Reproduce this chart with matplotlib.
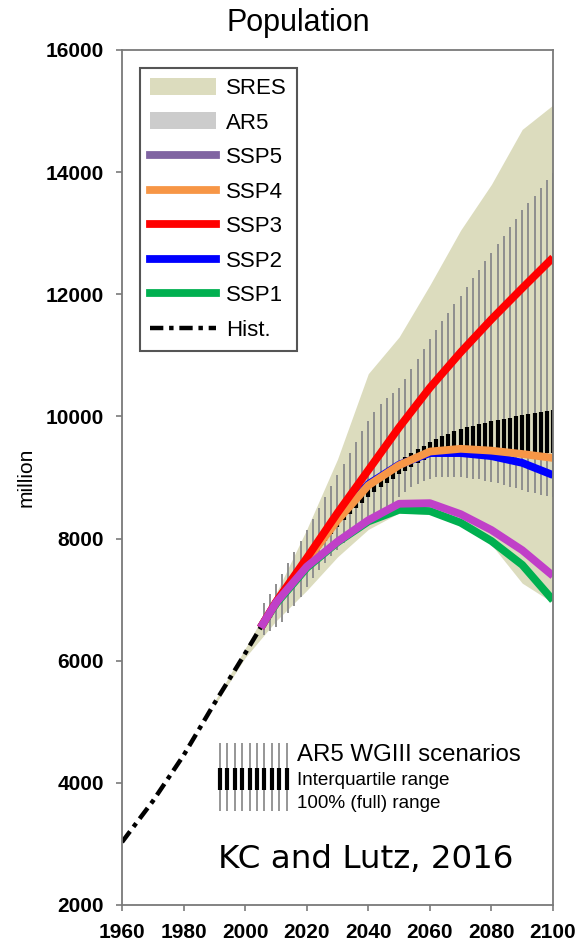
import matplotlib
matplotlib.use("Agg")
import matplotlib.pyplot as plt
from matplotlib.lines import Line2D
from matplotlib.patches import Patch

# ---------------- data (million people) ----------------
hist_years = [1960, 1970, 1980, 1990, 2000, 2005]
hist_pop = [3030, 3700, 4450, 5300, 6120, 6540]

ssp_years = [2005, 2010, 2020, 2030, 2040, 2050, 2060, 2070, 2080, 2090, 2100]
ssp1 = [6540, 6930, 7520, 7940, 8280, 8470, 8450, 8260, 7960, 7570, 6990]
ssp2 = [6540, 6950, 7650, 8320, 8890, 9210, 9400, 9400, 9350, 9240, 9040]
ssp3 = [6540, 6960, 7680, 8420, 9120, 9820, 10470, 11050, 11590, 12100, 12600]
ssp4 = [6540, 6950, 7640, 8300, 8870, 9200, 9425, 9470, 9440, 9385, 9320]
ssp5 = [6540, 6950, 7540, 7950, 8300, 8570, 8580, 8400, 8140, 7810, 7390]

sres_years = [1990, 2000, 2010, 2020, 2030, 2040, 2050, 2060, 2070, 2080, 2090, 2100]
sres_low = [5260, 6050, 6650, 7150, 7700, 8150, 8420, 8400, 8210, 7900, 7270, 6950]
sres_high = [5330, 6200, 7100, 8150, 9300, 10700, 11300, 12150, 13050, 13800, 14700, 15100]

ar5_years = list(range(2006, 2101, 2))
ar5_min = [6420, 6480, 6560, 6640, 6780, 6900, 7050, 7200, 7350, 7480,
           7600, 7720, 7820, 7920, 8010, 8100, 8180, 8260, 8340, 8420,
           8500, 8580, 8680, 8760, 8840, 8900, 8950, 8980, 9000, 9010,
           9010, 9000, 9000, 8990, 8980, 8970, 8950, 8930, 8910, 8880,
           8850, 8820, 8790, 8760, 8740, 8720, 8700, 8680]
ar5_max = [6950, 7100, 7250, 7420, 7600, 7780, 7960, 8140, 8320, 8500,
           8680, 8860, 9040, 9220, 9400, 9580, 9760, 9930, 10080, 10200,
           10300, 10380, 10470, 10620, 10780, 10940, 11100, 11260, 11420, 11560,
           11700, 11840, 11980, 12120, 12260, 12400, 12540, 12680, 12820, 12960,
           13100, 13240, 13380, 13500, 13610, 13740, 13870, 13990]
ar5_q1 = [6550, 6700, 6860, 7010, 7160, 7300, 7440, 7580, 7710, 7840,
          7960, 8080, 8190, 8300, 8400, 8500, 8590, 8680, 8760, 8840,
          8910, 8980, 9050, 9110, 9170, 9230, 9290, 9360, 9390, 9410,
          9420, 9420, 9430, 9430, 9430, 9430, 9420, 9420, 9410, 9410,
          9400, 9400, 9400, 9400, 9400, 9400, 9400, 9400]
ar5_q3 = [6600, 6760, 6920, 7080, 7230, 7380, 7520, 7660, 7800, 7930,
          8060, 8180, 8300, 8410, 8520, 8630, 8730, 8830, 8920, 9010,
          9100, 9180, 9260, 9330, 9400, 9460, 9520, 9580, 9630, 9680,
          9720, 9760, 9790, 9820, 9850, 9880, 9900, 9920, 9940, 9960,
          9980, 10000, 10020, 10040, 10060, 10080, 10090, 10100]

x_ticks = [1960, 1980, 2000, 2020, 2040, 2060, 2080, 2100]
y_ticks = [2000, 4000, 6000, 8000, 10000, 12000, 14000, 16000]

# ---------------- styling ----------------
W, H = 578, 944
SRES_C = "#dcdcbe"
AR5_C = "#cccccc"
GREY_LINE = "#8e8e8e"
C_SSP5_KEY = "#8064a2"
C_SSP5 = "#c040c8"
C_SSP4 = "#f79646"
C_SSP3 = "#ff0000"
C_SSP2 = "#0000ff"
C_SSP1 = "#00b050"
SPINE = "#7a7a7a"
LW = 5.6
HIST_LS = (0, (3, 1.3, 1, 1.3))

plt.rcParams["font.family"] = ["Liberation Sans", "DejaVu Sans"]

fig = plt.figure(figsize=(W / 100, H / 100), dpi=100)
ax = fig.add_axes([122 / W, 39 / H, 431 / W, 855 / H])

ax.fill_between(sres_years, sres_low, sres_high, color=SRES_C, lw=0, zorder=1)
ax.vlines(ar5_years, ar5_min, ar5_max, color=GREY_LINE, lw=1.4, zorder=2)
ax.vlines(ar5_years, ar5_q1, ar5_q3, color="black", lw=3.0, zorder=3)

ax.plot(ssp_years, ssp1, color=C_SSP1, lw=LW, zorder=4, solid_capstyle="butt")
ax.plot(ssp_years, ssp2, color=C_SSP2, lw=LW, zorder=5, solid_capstyle="butt")
ax.plot(ssp_years, ssp4, color=C_SSP4, lw=LW, zorder=6, solid_capstyle="butt")
ax.plot(ssp_years, ssp3, color=C_SSP3, lw=LW, zorder=7, solid_capstyle="butt")
ax.plot(ssp_years, ssp5, color=C_SSP5, lw=LW, zorder=8, solid_capstyle="butt")
ax.plot(hist_years, hist_pop, color="black", lw=3.2, ls=HIST_LS, zorder=9)

ax.set_xlim(1960, 2100)
ax.set_ylim(2000, 16000)
ax.set_xticks(x_ticks)
ax.set_yticks(y_ticks)
ax.tick_params(direction="out", length=4, width=1.2, color=SPINE,
               labelsize=15, pad=9)
for lab in ax.get_xticklabels() + ax.get_yticklabels():
    lab.set_fontweight("bold")
for sp in ax.spines.values():
    sp.set_color(SPINE)
    sp.set_linewidth(1.3)
    sp.set_zorder(10)

ax.set_ylabel("million", fontsize=15, labelpad=7)
fig.text(298 / W, 1 - 31 / H, "Population", fontsize=22,
         ha="center", va="baseline")

handles = [
    Patch(facecolor=SRES_C, edgecolor="none"),
    Patch(facecolor=AR5_C, edgecolor="none"),
    Line2D([], [], color=C_SSP5_KEY, lw=LW),
    Line2D([], [], color=C_SSP4, lw=LW),
    Line2D([], [], color=C_SSP3, lw=LW),
    Line2D([], [], color=C_SSP2, lw=LW),
    Line2D([], [], color=C_SSP1, lw=LW),
    Line2D([], [], color="black", lw=3.2, ls=HIST_LS),
]
labels = ["SRES", "AR5", "SSP5", "SSP4", "SSP3", "SSP2", "SSP1", "Hist."]
leg = ax.legend(handles, labels, loc="upper left", fontsize=16,
                frameon=True, fancybox=False, framealpha=1,
                edgecolor="#555555", handlelength=3.0, handleheight=0.8,
                handletextpad=0.45, labelspacing=0.6, borderpad=0.45,
                borderaxespad=0.8)
leg.get_frame().set_linewidth(1.5)
leg.set_zorder(12)

# key for the AR5 bars
key_x = [0.2273 + 0.0172 * i for i in range(10)]
ax.vlines(key_x, 0.110, 0.190, transform=ax.transAxes, color=GREY_LINE,
          lw=1.3, zorder=11)
ax.vlines(key_x, 0.1345, 0.160, transform=ax.transAxes, color="black",
          lw=3.0, zorder=11)
fig.text(297 / W, 1 - 761 / H, "AR5 WGIII scenarios", fontsize=17.3,
         va="baseline", zorder=11)
fig.text(297 / W, 1 - 785 / H, "Interquartile range", fontsize=13.6,
         va="baseline", zorder=11)
fig.text(297 / W, 1 - 808 / H, "100% (full) range", fontsize=13.6,
         va="baseline", zorder=11)
fig.text(218 / W, 1 - 868 / H, "KC and Lutz, 2016", fontsize=23.4,
         family="DejaVu Sans", va="baseline", zorder=11)

fig.savefig("out.png", dpi=100)
